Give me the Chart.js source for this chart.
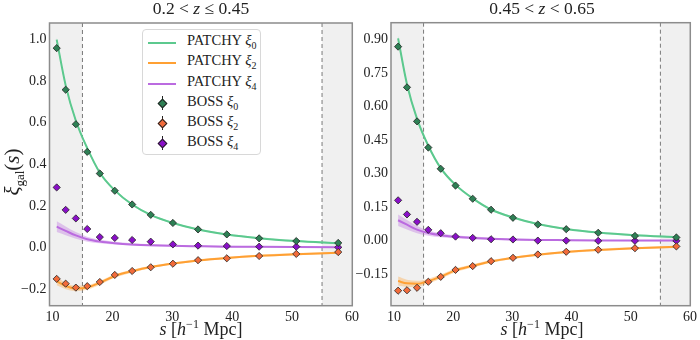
<!DOCTYPE html>
<html>
<head>
<meta charset="utf-8">
<script src="https://cdn.jsdelivr.net/npm/chart.js@4.4.1/dist/chart.umd.min.js"></script>
<style>
  body { margin: 0; width: 700px; height: 340px; position: relative; overflow: hidden; background: #fff; font-family: 'Liberation Serif', serif; color: #222; }
  .pane { position: absolute; top: 0; height: 340px; }
  #paneLo { left: 0; width: 362px; }
  #paneHi { left: 350px; width: 350px; }
  .ttl { position: absolute; top: -2px; width: 200px; margin-left: -100px; text-align: center; font-size: 17.5px; line-height: 20px; white-space: nowrap; }
  .xlab { position: absolute; top: 319px; width: 200px; margin-left: -100px; text-align: center; font-size: 18px; line-height: 20px; white-space: nowrap; }
  .ylab { position: absolute; left: -38px; top: 160px; width: 100px; height: 24px; line-height: 24px; text-align: center; font-size: 21px; white-space: nowrap; transform: rotate(-90deg); }
  sup, sub { line-height: 0; }
  #legend { position: absolute; left: 142px; top: 29px; width: 119px; height: 126px; border: 1px solid #d8d8d8; border-radius: 4px; background: #fff; box-sizing: border-box; padding-top: 2px; }
  .row { position: relative; height: 20.3px; font-size: 14.5px; }
  .row .txt { position: absolute; left: 44px; top: 0px; white-space: nowrap; }
  .row .ln { position: absolute; left: 5px; top: 10px; width: 28px; height: 2px; }
  .row .eb { position: absolute; left: 19px; top: 3px; width: 1.3px; height: 14px; background: #222; }
  .row .mk { position: absolute; left: 16px; top: 7px; width: 5px; height: 5px; transform: rotate(45deg); border: 0.8px solid #222; }
  i { font-style: italic; }
</style>
</head>
<body>
<div class="pane" id="paneLo"><canvas id="chartLo"></canvas></div>
<div class="pane" id="paneHi"><canvas id="chartHi"></canvas></div>

<div class="ttl" style="left:201px">0.2 &lt; <i>z</i> ≤ 0.45</div>
<div class="ttl" style="left:542px">0.45 &lt; <i>z</i> &lt; 0.65</div>
<div class="xlab" style="left:201px"><i>s</i> [<i>h</i><sup style="font-size:12px">−1</sup> Mpc]</div>
<div class="xlab" style="left:542px"><i>s</i> [<i>h</i><sup style="font-size:12px">−1</sup> Mpc]</div>
<div class="ylab"><i>ξ</i><sub style="font-size:13px">gal</sub>(<i>s</i>)</div>

<div id="legend">
  <div class="row"><span class="ln" style="background:#5cc98e"></span><span class="txt">PATCHY <i>ξ</i><sub style="font-size:10px">0</sub></span></div>
  <div class="row"><span class="ln" style="background:#ffa033"></span><span class="txt">PATCHY <i>ξ</i><sub style="font-size:10px">2</sub></span></div>
  <div class="row"><span class="ln" style="background:#bb6be0"></span><span class="txt">PATCHY <i>ξ</i><sub style="font-size:10px">4</sub></span></div>
  <div class="row"><span class="eb"></span><span class="mk" style="background:#2e8055"></span><span class="txt">BOSS <i>ξ</i><sub style="font-size:10px">0</sub></span></div>
  <div class="row"><span class="eb"></span><span class="mk" style="background:#f26b3a"></span><span class="txt">BOSS <i>ξ</i><sub style="font-size:10px">2</sub></span></div>
  <div class="row"><span class="eb"></span><span class="mk" style="background:#8a0fc9"></span><span class="txt">BOSS <i>ξ</i><sub style="font-size:10px">4</sub></span></div>
</div>

<script>
// separation bins, h^-1 Mpc
var sBins = [10.7, 12.2, 13.9, 15.8, 17.9, 20.4, 23.3, 26.4, 30.1, 34.3, 39.1, 44.5, 50.7, 57.7]

// 0.2 < z <= 0.45
var bossLo0 = [0.959, 0.759, 0.593, 0.460, 0.356, 0.273, 0.207, 0.157, 0.118, 0.087, 0.063, 0.044, 0.031, 0.022]
var bossLo2 = [-0.151, -0.174, -0.193, -0.186, -0.166, -0.132, -0.113, -0.095, -0.078, -0.061, -0.052, -0.041, -0.031, -0.022]
var bossLo4 = [0.289, 0.181, 0.140, 0.089, 0.050, 0.046, 0.036, 0.028, 0.015, 0.009, 0.007, 0.004, 0.004, 0.001]
var patchyLo0 = [1.000, 0.780, 0.610, 0.478, 0.360, 0.275, 0.207, 0.157, 0.118, 0.087, 0.063, 0.045, 0.031, 0.020]
var patchyLo2 = [-0.162, -0.185, -0.197, -0.192, -0.170, -0.137, -0.114, -0.094, -0.077, -0.062, -0.050, -0.040, -0.032, -0.025]
var patchyLo4 = [0.100, 0.080, 0.058, 0.040, 0.029, 0.021, 0.015, 0.011, 0.008, 0.006, 0.004, 0.003, 0.002, 0.001]

// 0.45 < z < 0.65
var bossHi0 = [0.868, 0.686, 0.534, 0.417, 0.322, 0.247, 0.188, 0.139, 0.103, 0.073, 0.052, 0.036, 0.022, 0.015]
var bossHi2 = [-0.223, -0.221, -0.210, -0.183, -0.161, -0.130, -0.113, -0.091, -0.076, -0.061, -0.049, -0.040, -0.033, -0.025]
var bossHi4 = [0.181, 0.118, 0.085, 0.049, 0.034, 0.019, 0.013, 0.007, 0.006, 0.001, 0.001, 0.000, 0.000, 0.000]
var patchyHi0 = [0.905, 0.700, 0.545, 0.425, 0.325, 0.250, 0.190, 0.140, 0.104, 0.075, 0.053, 0.037, 0.025, 0.016]
var patchyHi2 = [-0.180, -0.190, -0.192, -0.180, -0.160, -0.132, -0.112, -0.092, -0.076, -0.062, -0.050, -0.041, -0.033, -0.027]
var patchyHi4 = [0.092, 0.072, 0.050, 0.035, 0.025, 0.018, 0.013, 0.009, 0.006, 0.004, 0.003, 0.002, 0.001, 0.001]

// spread of the mocks around the mean
var spread0 = [0.012, 0.010, 0.008, 0.007, 0.006, 0.005, 0.005, 0.004, 0.004, 0.004, 0.004, 0.004, 0.004, 0.004]
var spread2 = [0.020, 0.016, 0.013, 0.011, 0.009, 0.008, 0.007, 0.006, 0.005, 0.005, 0.005, 0.005, 0.005, 0.005]
var spread4 = [0.026, 0.021, 0.016, 0.012, 0.009, 0.007, 0.006, 0.005, 0.004, 0.004, 0.004, 0.003, 0.003, 0.003]

var xTicks = [10, 20, 30, 40, 50, 60]
var yTicksLo = [-0.2, 0, 0.2, 0.4, 0.6, 0.8, 1.0]
var yTicksHi = [-0.15, 0, 0.15, 0.30, 0.45, 0.60, 0.75, 0.90]
var fitRange = [15, 55]

var col0 = { line: '#5cc98e', band: 'rgba(92,201,142,0.35)', mark: '#2e8055' }
var col2 = { line: '#ffa033', band: 'rgba(255,160,51,0.35)', mark: '#f26b3a' }
var col4 = { line: '#bb6be0', band: 'rgba(187,107,224,0.35)', mark: '#8a0fc9' }

function pts(arr, spr, sign) {
    return sBins.map(function (s, i) { return { x: s, y: arr[i] + (spr ? sign * spr[i] : 0) } })
}

function patchySets(mean, spr, c) {
    return [
        { data: pts(mean, spr, 1), showLine: true, borderWidth: 0, pointRadius: 0, cubicInterpolationMode: 'monotone', fill: false, order: 3 },
        { data: pts(mean, spr, -1), showLine: true, borderWidth: 0, pointRadius: 0, cubicInterpolationMode: 'monotone', fill: '-1', backgroundColor: c.band, order: 3 },
        { data: pts(mean), showLine: true, borderColor: c.line, borderWidth: 2, pointRadius: 0, cubicInterpolationMode: 'monotone', order: 2 }
    ]
}

function bossSet(arr, c) {
    return { data: pts(arr), showLine: false, pointStyle: 'rectRot', pointRadius: 3.6, backgroundColor: c.mark, borderColor: '#222', borderWidth: 0.8, order: 0 }
}

var panelDeco = {
    id: 'panelDeco',
    beforeDatasetsDraw: function (chart) {
        var ctx = chart.ctx, a = chart.chartArea, x = chart.scales.x
        var x1 = x.getPixelForValue(fitRange[0]), x2 = x.getPixelForValue(fitRange[1])
        ctx.save()
        ctx.fillStyle = '#f0f0f0'
        ctx.fillRect(a.left, a.top, x1 - a.left, a.bottom - a.top)
        ctx.fillRect(x2, a.top, a.right - x2, a.bottom - a.top)
        ctx.strokeStyle = '#7a7a7a'
        ctx.lineWidth = 1
        ctx.setLineDash([4, 3])
        ;[x1, x2].forEach(function (px) {
            ctx.beginPath(); ctx.moveTo(px, a.top); ctx.lineTo(px, a.bottom); ctx.stroke()
        })
        ctx.restore()
    },
    afterDraw: function (chart) {
        var ctx = chart.ctx, a = chart.chartArea
        ctx.save()
        ctx.strokeStyle = '#8c8c8c'
        ctx.lineWidth = 1.5
        ctx.strokeRect(a.left, a.top, a.right - a.left, a.bottom - a.top)
        ctx.restore()
    }
}

var tickFont = { family: 'Liberation Serif', size: 14 }

function makeChart(id, b0, b2, b4, p0, p2, p4, yMin, yMax, yTicks, yDec, yWidth, pad) {
    var sets = [bossSet(b0, col0), bossSet(b2, col2), bossSet(b4, col4)]
        .concat(patchySets(p0, spread0, col0), patchySets(p2, spread2, col2), patchySets(p4, spread4, col4))
    return new Chart(document.getElementById(id), {
        type: 'scatter',
        data: { datasets: sets },
        options: {
            responsive: true,
            maintainAspectRatio: false,
            animation: false,
            layout: { padding: pad },
            plugins: { legend: { display: false }, tooltip: { enabled: false } },
            scales: {
                x: {
                    type: 'linear', min: 9.5, max: 60.05,
                    grid: { display: false, drawTicks: false }, border: { display: false },
                    ticks: { font: tickFont, color: '#222', padding: 3, maxRotation: 0 },
                    afterBuildTicks: function (s) { s.ticks = xTicks.map(function (v) { return { value: v } }) },
                    afterFit: function (s) { s.height = 34.3 }
                },
                y: {
                    type: 'linear', min: yMin, max: yMax,
                    grid: { display: false, drawTicks: false }, border: { display: false },
                    ticks: {
                        font: tickFont, color: '#222', padding: 3,
                        callback: function (v) { return v.toFixed(yDec).replace('-', '\u2212') }
                    },
                    afterBuildTicks: function (s) { s.ticks = yTicks.map(function (v) { return { value: v } }) },
                    afterFit: function (s) { s.width = yWidth }
                }
            }
        },
        plugins: [panelDeco]
    })
}

makeChart('chartLo', bossLo0, bossLo2, bossLo4, patchyLo0, patchyLo2, patchyLo4,
    -0.28, 1.08, yTicksLo, 1, 49.5, { top: 23, right: 9, left: 0, bottom: 0 })
makeChart('chartHi', bossHi0, bossHi2, bossHi4, patchyHi0, patchyHi2, patchyHi4,
    -0.29, 0.975, yTicksHi, 2, 41, { top: 22.7, right: 6, left: 0, bottom: 0 })
</script>
</body>
</html>
